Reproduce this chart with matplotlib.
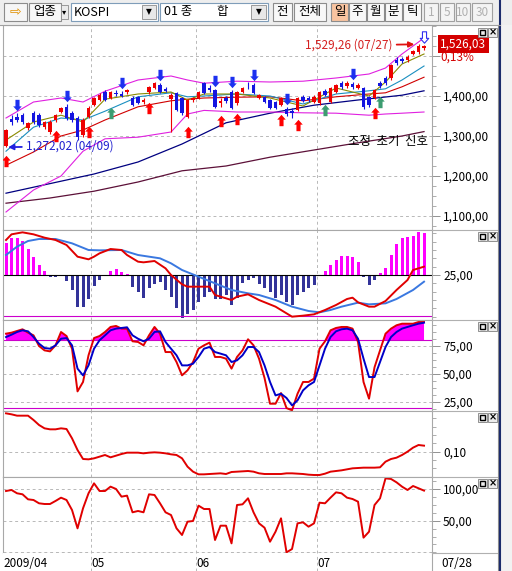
import numpy as np
import matplotlib
matplotlib.use('Agg')
import matplotlib.pyplot as plt
from matplotlib.path import Path
from matplotlib.patches import Rectangle
from matplotlib.lines import Line2D
from matplotlib.ticker import MultipleLocator, FixedLocator, FuncFormatter
from matplotlib.transforms import offset_copy, blended_transform_factory

plt.rcParams['font.family'] = ['Noto Sans CJK KR', 'DejaVu Sans']

W, H = 512, 571

# 일봉 (2009/04/09 ~ 2009/07/28)
opens = [1275, 1342, 1347, 1352, 1320, 1357, 1352, 1322, 1310, 1340,
         1360, 1372, 1357, 1345, 1302, 1347, 1378, 1390, 1410, 1395,
         1407, 1405, 1410, 1395, 1397, 1385, 1410, 1420, 1427, 1417,
         1392, 1407, 1395, 1347, 1390, 1395, 1432, 1420, 1415, 1383,
         1395, 1410, 1382, 1410, 1426, 1427, 1395, 1397, 1390, 1385,
         1378, 1368, 1363, 1365, 1398, 1396, 1385, 1382, 1412, 1385,
         1410, 1432, 1425, 1430, 1420, 1420, 1397, 1395, 1432, 1445,
         1445, 1490, 1492, 1490, 1505, 1510, 1520]
highs = [1318, 1352, 1357, 1358, 1335, 1362, 1358, 1338, 1340, 1355,
         1373, 1380, 1362, 1350, 1345, 1375, 1398, 1407, 1415, 1413,
         1415, 1412, 1418, 1400, 1400, 1395, 1425, 1435, 1432, 1422,
         1408, 1410, 1398, 1392, 1398, 1413, 1435, 1427, 1418, 1395,
         1400, 1415, 1412, 1422, 1435, 1432, 1405, 1400, 1393, 1388,
         1397, 1372, 1370, 1398, 1402, 1400, 1402, 1413, 1418, 1423,
         1430, 1438, 1437, 1435, 1432, 1423, 1400, 1418, 1437, 1450,
         1480, 1497, 1498, 1502, 1515, 1529.26, 1528]
lows = [1272.02, 1327, 1335, 1330, 1315, 1330, 1322, 1318, 1305, 1335,
        1357, 1340, 1335, 1290, 1298, 1345, 1375, 1388, 1387, 1392,
        1400, 1398, 1405, 1375, 1380, 1380, 1405, 1418, 1408, 1410,
        1310, 1362, 1352, 1345, 1385, 1393, 1405, 1410, 1370, 1372,
        1383, 1368, 1378, 1408, 1418, 1405, 1392, 1383, 1368, 1367,
        1375, 1350, 1345, 1362, 1385, 1385, 1382, 1378, 1400, 1383,
        1408, 1418, 1420, 1418, 1417, 1368, 1373, 1392, 1420, 1428,
        1440, 1478, 1483, 1485, 1502, 1505, 1515]
closes = [1315, 1336, 1341, 1335, 1332, 1335, 1327, 1335, 1335, 1352,
          1370, 1345, 1340, 1297, 1340, 1370, 1395, 1402, 1390, 1410,
          1404, 1401, 1414, 1378, 1382, 1390, 1422, 1432, 1410, 1413,
          1402, 1365, 1357, 1390, 1395, 1410, 1407, 1415, 1372, 1387,
          1387, 1370, 1410, 1420, 1424, 1407, 1402, 1386, 1370, 1370,
          1395, 1355, 1358, 1395, 1388, 1389, 1398, 1410, 1403, 1420,
          1427, 1422, 1432, 1422, 1428, 1372, 1377, 1415, 1425, 1432,
          1477, 1482, 1487, 1497, 1512, 1524, 1526.03]
change_pct = 0.13
high_date = '07/27'
low_date = '04/09'

# 이동평균 / 볼린저 밴드
ma_idx = [0, 5, 10, 14, 18, 24, 30, 33, 36, 42, 48, 54, 60, 66, 69, 72, 76]
ma5 = [1290, 1335, 1352, 1335, 1392, 1405, 1410, 1390, 1405, 1405, 1395, 1375, 1420, 1400, 1435, 1480, 1505]
ma10 = [1262, 1322, 1345, 1340, 1362, 1398, 1408, 1398, 1400, 1405, 1400, 1380, 1405, 1413, 1418, 1440, 1475]
ma20 = [1227, 1260, 1300, 1315, 1340, 1373, 1388, 1392, 1395, 1397, 1398, 1388, 1398, 1405, 1408, 1423, 1447]
bb_up = [1345, 1385, 1395, 1385, 1412, 1440, 1450, 1440, 1432, 1437, 1435, 1437, 1445, 1455, 1470, 1505, 1545]
bb_dn = [1110, 1165, 1200, 1262, 1293, 1297, 1310, 1355, 1364, 1360, 1360, 1358, 1357, 1352, 1355, 1357, 1360]
long_idx = [0, 8, 16, 24, 32, 40, 48, 56, 64, 72, 76]
ma60 = [1157, 1181, 1205, 1235, 1280, 1333, 1357, 1377, 1390, 1402, 1413]
ma120 = [1132, 1145, 1162, 1185, 1213, 1225, 1247, 1265, 1283, 1300, 1311]

# 신호
buy_idx = [0, 9, 15, 26, 33, 39, 42, 50, 53, 67]
green_idx = [19, 58, 68]
sell_idx = [2, 11, 21, 28, 38, 41, 45, 51, 63]
warn_idx = [76]

# MACD
macd_hist = [9.5, 11.2, 11.0, 10.2, 7.8, 5.5, 3.0, 1.2, -0.7, -0.7,
             0.0, -1.8, -4.5, -9.5, -9.5, -7.2, -3.2, -1.5, 0.0, 1.2,
             1.8, 1.0, 0.4, -3.5, -5.0, -6.8, -4.0, -2.8, -2.0, -4.5,
             -6.5, -10.0, -13.0, -11.8, -10.5, -8.0, -6.5, -5.0, -7.2, -7.2,
             -6.0, -9.0, -6.8, -2.5, -1.5, -1.0, -2.8, -4.0, -5.0, -6.8,
             -6.0, -8.0, -9.0, -6.0, -5.0, -4.0, -3.0, -0.2, 1.2, 3.0,
             4.5, 5.7, 5.7, 5.3, 4.0, -0.5, -3.0, -1.5, 0.5, 2.2,
             6.0, 9.3, 11.2, 11.5, 11.7, 13.0, 12.5]
macd_idx = [0, 1, 3, 5, 7, 9, 11, 13, 15, 16, 17, 19, 21, 22, 24, 25, 27, 29, 30, 32,
            33, 35, 37, 38, 41, 42, 44, 46, 49, 50, 52, 54, 56, 58, 60, 62, 63, 64, 66, 67,
            69, 71, 73, 74, 76]
macd_line = [35.5, 37.2, 37.8, 37.2, 36.2, 35.5, 34.0, 30.5, 29.7, 30.5, 31.5, 32.8, 32.5, 31.0, 29.0, 28.8, 29.2, 27.0, 25.0, 22.2,
             21.5, 21.5, 21.5, 19.0, 17.5, 18.5, 19.2, 17.5, 15.5, 14.5, 12.5, 12.8, 13.2, 14.5, 16.0, 17.8, 18.2, 16.8, 15.5, 15.5,
             17.2, 20.5, 23.5, 26.5, 27.5]
sig_idx = [0, 2, 4, 6, 9, 12, 15, 17, 21, 24, 28, 30, 32, 35, 38, 41, 44, 46, 49, 52,
           55, 57, 59, 61, 64, 66, 69, 71, 74, 76]
macd_sig = [31.0, 33.5, 35.2, 35.8, 35.8, 34.5, 32.5, 32.4, 32.5, 31.0, 30.0, 28.5, 26.5, 24.5, 22.5, 20.5, 19.5, 19.0, 17.5, 15.5,
            14.2, 13.8, 14.5, 15.5, 16.7, 16.2, 16.5, 17.8, 20.5, 23.0]

# Stochastic
stoch_k = [86.0, 86.9, 88.4, 89.9, 86.9, 84.5, 75.0, 71.1, 70.2, 75.6,
           87.5, 83.9, 72.6, 34.5, 42.9, 66.7, 82.1, 83.9, 87.5, 92.0,
           92.9, 90.5, 90.5, 79.2, 78.6, 75.6, 84.5, 92.0, 86.0, 69.6,
           69.6, 60.7, 48.8, 53.3, 60.7, 72.6, 75.6, 78.0, 65.2, 65.2,
           63.7, 54.8, 65.2, 71.1, 81.0, 75.6, 63.7, 46.5, 23.5, 23.5,
           33.0, 19.6, 17.6, 32.4, 42.9, 42.9, 45.9, 72.6, 79.2, 89.0,
           91.1, 92.0, 92.0, 90.5, 78.6, 42.9, 28.0, 56.0, 71.1, 86.0,
           90.5, 93.5, 94.9, 94.9, 94.9, 96.4, 96.4]
stoch_d = [83.0, 85.1, 87.5, 89.0, 88.1, 83.0, 77.1, 73.2, 72.6, 75.6,
           81.5, 82.1, 75.6, 54.8, 48.8, 57.7, 72.6, 80.1, 84.5, 89.0,
           90.5, 91.1, 91.7, 84.5, 81.5, 79.2, 81.5, 87.5, 88.1, 78.6,
           72.6, 66.7, 57.7, 57.7, 59.2, 65.2, 72.6, 74.1, 69.6, 68.2,
           66.7, 60.7, 62.2, 66.7, 74.1, 74.1, 69.6, 57.7, 42.9, 30.9,
           32.4, 28.6, 22.0, 26.5, 35.4, 39.9, 42.9, 57.7, 72.6, 83.0,
           88.1, 89.9, 90.5, 89.0, 81.5, 63.7, 47.3, 47.3, 60.7, 74.1,
           83.0, 87.5, 90.5, 92.0, 93.5, 94.9, 95.8]

# 보조지표 4, 5
ind4 = [0.1575, 0.156, 0.154, 0.154, 0.154, 0.1475, 0.14, 0.135, 0.1335, 0.1335,
        0.135, 0.134, 0.12, 0.1025, 0.089, 0.0885, 0.09, 0.0925, 0.095, 0.0915,
        0.094, 0.0965, 0.0985, 0.0985, 0.0985, 0.0975, 0.0985, 0.099, 0.0985, 0.0975,
        0.096, 0.095, 0.09, 0.0775, 0.07, 0.066, 0.066, 0.0665, 0.067, 0.0675,
        0.0665, 0.0695, 0.07, 0.0705, 0.071, 0.07, 0.0675, 0.0665, 0.0665, 0.0665,
        0.0665, 0.0675, 0.0675, 0.067, 0.0665, 0.0655, 0.065, 0.065, 0.067, 0.07,
        0.071, 0.072, 0.0735, 0.075, 0.0755, 0.076, 0.076, 0.076, 0.0765, 0.085,
        0.089, 0.091, 0.095, 0.1, 0.106, 0.11, 0.109]
ind5 = [96.8, 98.4, 93.2, 91.6, 83.7, 82.6, 77.4, 76.3, 76.3, 81.1,
        86.3, 82.6, 66.8, 37.9, 69.5, 93.2, 108.9, 96.8, 96.8, 103.7,
        100.0, 87.9, 89.5, 63.2, 65.3, 63.2, 91.6, 90.5, 77.4, 63.2,
        58.9, 37.9, 27.4, 48.4, 49.5, 73.7, 68.4, 68.4, 19.5, 42.1,
        42.1, 14.2, 74.7, 75.8, 85.3, 63.2, 45.8, 38.9, 16.8, 32.6,
        53.7, 0.0, 5.3, 45.8, 47.4, 40.5, 45.8, 78.4, 77.4, 86.3,
        94.7, 93.2, 86.3, 84.2, 80.0, 23.2, 32.6, 74.7, 85.3, 116.8,
        115.8, 110.5, 103.7, 98.4, 104.7, 101.1, 97.4]

month_starts = [0, 16, 35, 57]
month_labels = ['2009/04', '05', '06', '07']
last_label = '07/28'

toolbar_buttons = [('업종', 29, 61), ('전', 273, 292), ('전체', 294, 326), ('주', 349, 366),
                   ('월', 367, 384), ('분', 385, 402), ('틱', 403, 421)]
active_button = ('일', 331, 348)
gray_buttons = [('1', 424, 438), ('5', 440, 454), ('10', 456, 470), ('30', 472, 492)]

# ------------------------------------------------------------------
fig = plt.figure(figsize=(W / 100, H / 100), dpi=100, facecolor='white')


def fbox(x0, y0, x1, y1, **kw):
    fig.patches.append(Rectangle((x0 / W, 1 - y1 / H), (x1 - x0) / W, (y1 - y0) / H,
                                 transform=fig.transFigure, **kw))


def ftext(x, y, s, **kw):
    fig.text(x / W, 1 - y / H, s, **kw)


def fline(xs, ys, **kw):
    fig.add_artist(Line2D([v / W for v in xs], [1 - v / H for v in ys], transform=fig.transFigure, **kw))


def fmt(v, pos=None):
    return f'{v:,.2f}'.replace('.', ',')


def pane(top, bottom):
    return fig.add_axes([3 / W, 1 - bottom / H, 429 / W, (bottom - top) / H])


month_lines = [s - 0.5 for s in month_starts[1:]]
x = np.arange(len(closes))


def style(ax, ylim, majors, minor, formatter=fmt):
    ax.set_xlim(-0.55, 77.45)
    ax.set_ylim(*ylim)
    ax.yaxis.tick_right()
    ax.yaxis.set_major_locator(FixedLocator(majors))
    ax.yaxis.set_minor_locator(MultipleLocator(minor))
    ax.yaxis.set_major_formatter(FuncFormatter(formatter))
    ax.tick_params(axis='y', which='major', length=6, width=0.6, color='#808080', pad=2, labelsize=8.5)
    ax.tick_params(axis='y', which='minor', length=3, width=0.6, color='#a0a0a0')
    ax.set_xticks(month_lines)
    ax.tick_params(axis='x', length=0, labelbottom=False)
    ax.grid(True, which='major', color='#b8b8b8', ls=(0, (3, 3)), lw=0.7)
    for s in ax.spines.values():
        s.set_color('#a8a8a8')
        s.set_linewidth(0.8)


# ---------------- main price pane ----------------
ax = pane(25, 230)
style(ax, (1065, 1577.5), [1100, 1200, 1300, 1400, 1500], 25,
      formatter=lambda v, p: '' if v > 1450 else fmt(v))

ax.plot(long_idx, ma120, color='#5c1038', lw=0.9, zorder=2)
ax.plot(long_idx, ma60, color='#000080', lw=0.9, zorder=2)
ax.plot(ma_idx, bb_up, color='#e020e0', lw=0.8, zorder=2)
ax.plot(ma_idx, bb_dn, color='#e020e0', lw=0.8, zorder=2)
ax.plot(ma_idx, ma20, color='#d00000', lw=0.8, zorder=2)
ax.plot(ma_idx, ma10, color='#1a8fc0', lw=0.8, zorder=2)
ax.plot(ma_idx, ma5, color='#8a8a00', lw=0.8, zorder=2)

o = np.array(opens)
c = np.array(closes)
hi = np.array(highs)
lo = np.array(lows)
col = np.where(c >= o, '#ee0000', '#1414e0')
ax.vlines(x, lo, hi, colors=col, lw=0.8, zorder=3)
ax.bar(x, np.maximum(np.abs(c - o), 1.5), bottom=np.minimum(o, c), width=0.6,
       color=col, lw=0, zorder=3)

arrow_up = Path([(-0.36, -1), (0.36, -1), (0.36, 0.15), (0.75, 0.15), (0, 1), (-0.75, 0.15),
                 (-0.36, 0.15), (-0.36, -1)], closed=True)
arrow_dn = Path([(-0.36, 1), (0.36, 1), (0.36, -0.15), (0.75, -0.15), (0, -1), (-0.75, -0.15),
                 (-0.36, -0.15), (-0.36, 1)], closed=True)
below = offset_copy(ax.transData, fig=fig, y=-14, units='dots')
above = offset_copy(ax.transData, fig=fig, y=8, units='dots')
ax.plot(buy_idx, lo[buy_idx], ls='none', marker=arrow_up, ms=8.2, color='#ff0000',
        mew=0, transform=below, zorder=5)
ax.plot(green_idx, lo[green_idx], ls='none', marker=arrow_up, ms=8.2, color='#3c9c70',
        mew=0, transform=below, zorder=5)
ax.plot(sell_idx, hi[sell_idx], ls='none', marker=arrow_dn, ms=8.2, color='#1c30f0',
        mew=0, transform=above, zorder=5)
ax.plot(warn_idx, hi[warn_idx], ls='none', marker=arrow_dn, ms=8.2, mfc='white', mec='#3030f0',
        mew=0.8, transform=above, zorder=5)

i_hi = int(np.argmax(hi))
ax.annotate(f'{fmt(hi[i_hi])} ({high_date})', xy=(i_hi, hi[i_hi]), xytext=(-26, -1),
            textcoords='offset pixels', ha='right', va='center', color='#d42020', fontsize=8.5,
            arrowprops=dict(arrowstyle='-|>', color='#e01010', lw=1.3, mutation_scale=8,
                            shrinkA=1, shrinkB=3), zorder=6)
i_lo = int(np.argmin(lo))
ax.annotate(f'{fmt(lo[i_lo])} ({low_date})', xy=(i_lo, lo[i_lo]), xytext=(20, 1),
            textcoords='offset pixels', ha='left', va='center', color='#2020d0', fontsize=8.5,
            arrowprops=dict(arrowstyle='-|>', color='#2020e0', lw=1.3, mutation_scale=8,
                            shrinkA=1, shrinkB=1.5), zorder=6)
ax.text(0.897, 0.434, '조정  초기  신호', transform=ax.transAxes, ha='center', va='center',
        fontsize=9, color='black')

tr_lab = blended_transform_factory(ax.transAxes, ax.transData)
ax.text(1.019, c[-1] + 4, fmt(c[-1]), transform=tr_lab, color='white', fontsize=8.5,
        ha='left', va='center', clip_on=False,
        bbox=dict(boxstyle='square,pad=0.2', fc='#d40000', ec='none'))
ax.text(1.019, c[-1] + 4, f'{fmt(change_pct)}%', color='#d40000', fontsize=8.5, ha='left',
        va='center', clip_on=False,
        transform=offset_copy(tr_lab, fig=fig, y=-13, units='dots'))

# ---------------- MACD ----------------
axm = pane(230, 320)
style(axm, (11.5, 38.5), [25], 2.5)
hist = np.array(macd_hist)
axm.bar(x, hist, bottom=25, width=0.55, color=np.where(hist >= 0, '#ff00ff', '#333399'), lw=0)
axm.axhline(25, color='black', lw=0.8)
axm.axhline(12.8, color='#cc00cc', lw=0.8)
axm.plot(sig_idx, macd_sig, color='#3a78e0', lw=1.4)
axm.plot(macd_idx, macd_line, color='#e00000', lw=1.4)

# ---------------- Stochastic ----------------
axs = pane(320, 411)
style(axs, (17.0, 98.2), [25, 50, 75], 6.25)
k = np.array(stoch_k)
axs.fill_between(x, k, 80, where=k >= 80, interpolate=True, color='#ff00ff', lw=0)
axs.axhline(80, color='#cc00cc', lw=0.8)
axs.axhline(20, color='#cc00cc', lw=0.8)
axs.plot(x, stoch_k, color='#e00000', lw=1.4)
axs.plot(x, stoch_d, color='#0000c8', lw=1.4)

# ---------------- indicator 4 ----------------
ax4 = pane(411, 477)
style(ax4, (0.062, 0.161), [0.10], 0.0125)
ax4.plot(x, ind4, color='#e00000', lw=1.4)

# ---------------- indicator 5 ----------------
ax5 = pane(477, 553)
style(ax5, (-1.0, 118.9), [50, 100], 12.5)
ax5.axhline(0, color='#b8b8b8', ls=(0, (3, 3)), lw=0.7)
ax5.plot(x, ind5, color='#e00000', lw=1.4)

# ---------------- date row ----------------
axd = pane(553, 571)
axd.set_xlim(-0.55, 77.45)
axd.set_ylim(0, 1)
axd.set_xticks([])
axd.set_yticks([])
for s in axd.spines.values():
    s.set_visible(False)
axd.spines['right'].set_visible(True)
axd.spines['right'].set_color('#a8a8a8')
axd.vlines(month_lines, 0, 1, color='#b8b8b8', lw=0.7, ls=(0, (3, 3)))
for pos, lab in zip(month_starts, month_labels):
    axd.text(pos - 0.4, 0.42, lab, ha='left', va='center', fontsize=8.5)
axd.text(1.021, 0.42, last_label, transform=axd.transAxes, ha='left', va='center', fontsize=8.5)

# ---------------- frame / separators ----------------
for yy in (230, 320, 411, 477, 553):
    fline([432, 497], [yy, yy], color='#b0b0b0', lw=0.8)
fline([497.5, 497.5], [25, 571], color='#909090', lw=0.8)
fline([500, 500], [0, 571], color='#1c2c6c', lw=1.5)
fbox(501, 0, 512, 571, fc='#f2f2f2', ec='none')

for top in (28, 232, 322, 413, 479):
    fbox(478, top, 487, top + 9, fc='#ececec', ec='#808080', lw=0.6)
    fbox(488, top, 497, top + 9, fc='#ececec', ec='#808080', lw=0.6)
    fbox(480, top + 2, 485, top + 7, fc='none', ec='black', lw=1.0)
    ftext(492.5, top + 4.5, '×', ha='center', va='center', fontsize=7, fontweight='bold',
          family='DejaVu Sans')

# ---------------- toolbar ----------------
fbox(0, 0, 512, 25, fc='#eeeeee', ec='none')
fline([0, 500], [24.5, 24.5], color='#a0a0a0', lw=0.8)
fbox(4, 3, 27, 21, fc='#f6f6f6', ec='#8c8c8c', lw=0.8)
ftext(15.5, 12, '⇨', ha='center', va='center', fontsize=10, color='#e09000', family='DejaVu Sans')
for lab, x0, x1 in toolbar_buttons:
    fbox(x0, 3, x1, 21, fc='#f8f8f8', ec='#8c8c8c', lw=0.8)
    ftext((x0 + x1) / 2, 12, lab, ha='center', va='center', fontsize=9)
lab, x0, x1 = active_button
fbox(x0, 3, x1, 21, fc='#f9c4a0', ec='#8c8c8c', lw=0.8)
ftext((x0 + x1) / 2, 12, lab, ha='center', va='center', fontsize=9)
for lab, x0, x1 in gray_buttons:
    fbox(x0, 3, x1, 21, fc='#f4f4f4', ec='#a0a0a0', lw=0.8)
    ftext((x0 + x1) / 2, 12, lab, ha='center', va='center', fontsize=8.5, color='#b0b0b0')
fbox(61, 5, 68, 19, fc='#eaeaea', ec='#8c8c8c', lw=0.6)
ftext(64.5, 12, '▾', ha='center', va='center', fontsize=6, family='DejaVu Sans')
fbox(71, 3, 158, 21, fc='white', ec='#7f9db9', lw=0.8)
ftext(74, 12, 'KOSPI', ha='left', va='center', fontsize=9)
fbox(142, 5, 156, 19, fc='#e8e8e8', ec='#8c8c8c', lw=0.6)
ftext(149, 12, '▼', ha='center', va='center', fontsize=5.5, family='DejaVu Sans')
fbox(160, 3, 268, 21, fc='white', ec='#7f9db9', lw=0.8)
ftext(164, 12, '01 종', ha='left', va='center', fontsize=9)
ftext(222, 12, '합', ha='center', va='center', fontsize=9)
fbox(251, 5, 266, 19, fc='#e8e8e8', ec='#8c8c8c', lw=0.6)
ftext(258.5, 12, '▼', ha='center', va='center', fontsize=5.5, family='DejaVu Sans')

fig.savefig('out.png', dpi=100, facecolor='white')
